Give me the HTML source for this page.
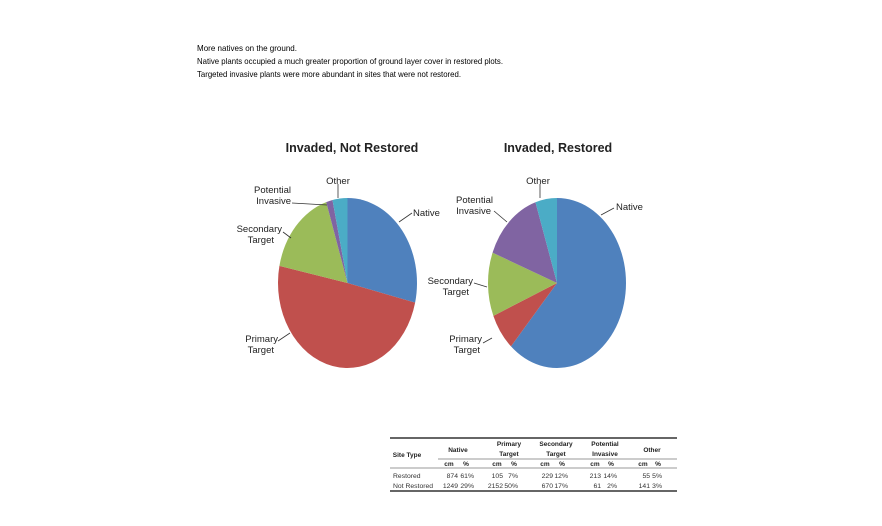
<!DOCTYPE html>
<html><head><meta charset="utf-8"><style>
html,body{margin:0;padding:0;background:#fff;}
svg{display:block;font-family:"Liberation Sans",sans-serif;}
</style></head><body>
<svg id="s" width="882" height="526" viewBox="0 0 882 526" xmlns="http://www.w3.org/2000/svg">
<g font-size="8.5" fill="#000">
<text x="197" y="51" textLength="100" lengthAdjust="spacingAndGlyphs">More natives on the ground.</text>
<text x="197" y="64" textLength="306" lengthAdjust="spacingAndGlyphs">Native plants occupied a much greater proportion of ground layer cover in restored plots.</text>
<text x="197" y="77" textLength="264" lengthAdjust="spacingAndGlyphs">Targeted invasive plants were more abundant in sites that were not restored.</text>
</g>
<g font-size="12.5" font-weight="bold" fill="#222" text-anchor="middle">
<text x="352" y="152">Invaded, Not Restored</text>
<text x="558" y="152">Invaded, Restored</text>
</g>
<g id="pies"></g>
<g stroke="#333" stroke-width="0.8" fill="none">
<path d="M292,203 L327,205"/><path d="M399,222 L412,213"/><path d="M283,232 L291,238"/><path d="M278,341 L290,333"/><path d="M338,184 L338,198"/>
<path d="M494,211 L507,222"/><path d="M601,215 L614,208"/><path d="M474,283 L487,287"/><path d="M483,343 L492,338"/><path d="M540,184 L540,198"/>
</g>
<g font-size="9.5" fill="#222">
<text x="338" y="184" text-anchor="middle">Other</text>
<text x="291" y="193" text-anchor="end">Potential</text>
<text x="291" y="204" text-anchor="end">Invasive</text>
<text x="413" y="216">Native</text>
<text x="282" y="232" text-anchor="end">Secondary</text>
<text x="274" y="243" text-anchor="end">Target</text>
<text x="278" y="342" text-anchor="end">Primary</text>
<text x="274" y="353" text-anchor="end">Target</text>
<text x="538" y="184" text-anchor="middle">Other</text>
<text x="493" y="203" text-anchor="end">Potential</text>
<text x="491" y="214" text-anchor="end">Invasive</text>
<text x="616" y="210">Native</text>
<text x="473" y="284" text-anchor="end">Secondary</text>
<text x="469" y="295" text-anchor="end">Target</text>
<text x="482" y="342" text-anchor="end">Primary</text>
<text x="480" y="353" text-anchor="end">Target</text>
</g>
<g stroke="#333">
<line x1="390" y1="438" x2="677" y2="438" stroke-width="1.5"/>
<line x1="438" y1="459" x2="677" y2="459" stroke-width="0.6"/>
<line x1="390" y1="468" x2="677" y2="468" stroke-width="0.6"/>
<line x1="390" y1="491" x2="677" y2="491" stroke-width="1.5"/>
</g>
<g font-size="6.5" font-weight="bold" fill="#222" text-anchor="middle">
<text x="407" y="457">Site Type</text>
<text x="458" y="452">Native</text>
<text x="509" y="446">Primary</text><text x="509" y="456">Target</text>
<text x="556" y="446">Secondary</text><text x="556" y="456">Target</text>
<text x="605" y="446">Potential</text><text x="605" y="456">Invasive</text>
<text x="652" y="452">Other</text>
<text x="449" y="466">cm</text><text x="466" y="466">%</text>
<text x="497" y="466">cm</text><text x="514" y="466">%</text>
<text x="545" y="466">cm</text><text x="562" y="466">%</text>
<text x="595" y="466">cm</text><text x="611" y="466">%</text>
<text x="643" y="466">cm</text><text x="658" y="466">%</text>
</g>
<g font-size="6.8" fill="#333" text-anchor="end">
<text x="421" y="478" text-anchor="start" transform="translate(-28,0)">Restored</text>
<text x="458" y="478">874</text><text x="474" y="478">61%</text>
<text x="503" y="478">105</text><text x="518" y="478">7%</text>
<text x="553" y="478">229</text><text x="568" y="478">12%</text>
<text x="601" y="478">213</text><text x="617" y="478">14%</text>
<text x="650" y="478">55</text><text x="662" y="478">5%</text>
<text x="393" y="488" text-anchor="start">Not Restored</text>
<text x="458" y="488">1249</text><text x="474" y="488">29%</text>
<text x="503" y="488">2152</text><text x="518" y="488">50%</text>
<text x="553" y="488">670</text><text x="568" y="488">17%</text>
<text x="601" y="488">61</text><text x="617" y="488">2%</text>
<text x="650" y="488">141</text><text x="662" y="488">3%</text>
</g>
</svg>
<script>
var C=["#4F81BD","#C0504D","#9BBB59","#8064A2","#4BACC6"];
function pie(cx,cy,rx,ry,v){var s=v.reduce((a,b)=>a+b,0),a=0,h="";
for(var i=0;i<v.length;i++){var b=a+v[i]/s*2*Math.PI;
var x1=cx+rx*Math.sin(a),y1=cy-ry*Math.cos(a),x2=cx+rx*Math.sin(b),y2=cy-ry*Math.cos(b);
h+='<path d="M'+cx+','+cy+' L'+x1+','+y1+' A'+rx+','+ry+' 0 '+((b-a)>Math.PI?1:0)+' 1 '+x2+','+y2+' Z" fill="'+C[i]+'"/>';a=b;}
return h;}
document.getElementById("pies").innerHTML=pie(347.5,283,69.5,85,[29,50,17,1.5,3.5])+pie(557,283,69,85,[61,7,12,14,5]);
</script>
</body></html>
